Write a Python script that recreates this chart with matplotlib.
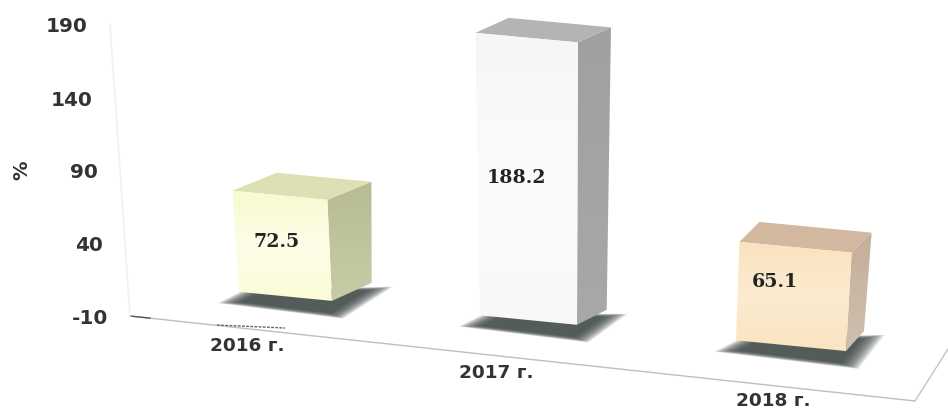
import numpy as np
from matplotlib import pyplot as plt
from matplotlib.colors import LinearSegmentedColormap
from matplotlib.patches import Polygon

categories = ["2016 г.", "2017 г.", "2018 г."]
values = [72.5, 188.2, 65.1]
value_labels = ["72.5", "188.2", "65.1"]
y_ticks = [190, 140, 90, 40, -10]

# picture layout of the slanted 3D box chart
WIDTH, HEIGHT = 948, 410
bar_left = [239, 480, 736]
bar_right = [332, 577, 846]
px_per_unit = [1.225, 1.425, 1.31]
depth_dx = [44, 33, 20]
depth_dy = [-18, -15, -20]
label_shift = [(-6, -5), (-11, -2), (-18, -15)]
cat_label_xy = [(247, 346), (496, 373), (773, 401)]

front_colors = [("#F8FAD0", "#FDFDE8", "#FBFCD6"),
                ("#F6F6F6", "#FBFBFB", "#F8F8F8"),
                ("#FAE2BE", "#FCEBD0", "#FBE4C2")]
top_colors = ["#DDE0B4", "#B4B4B4", "#D3B8A0"]
side_colors = [("#B8BC94", "#C8CCA6"),
               ("#A0A0A0", "#A8A8A8"),
               ("#C6AE9A", "#CFC0B0")]


def floor_y(x):
    return 317 + (x - 130) * 85 / 785


def base_y(x):
    return floor_y(x) - (36 + 0.0107 * (x - 239))


def wall_y(v):
    return 317 - (v + 10) * 1.46


def wall_x(v):
    return 130 - (v + 10) * 0.1


def top_point(x, v, scale):
    h = (v + 10) * scale
    lean = (x - 560) * 0.0002
    return (x + lean * h, base_y(x) - h)


def gradient_poly(ax, pts, colors, zorder):
    pts = np.array(pts)
    patch = Polygon(pts, fc="none", ec="none", zorder=zorder)
    ax.add_patch(patch)
    cmap = LinearSegmentedColormap.from_list("face", colors)
    grad = np.linspace(0, 1, 64).reshape(-1, 1)
    im = ax.imshow(grad, cmap=cmap, aspect="auto", zorder=zorder,
                   extent=(pts[:, 0].min(), pts[:, 0].max(), pts[:, 1].max(), pts[:, 1].min()))
    im.set_clip_path(patch)


def soft_shadow(ax, pts, zorder):
    pts = np.array(pts, dtype=float)
    center = pts.mean(axis=0)
    for grow in np.linspace(1.1, 0.78, 18):
        ax.add_patch(Polygon(center + (pts - center) * grow, fc="#3C4444", ec="none",
                             alpha=0.1, zorder=zorder))


def main():
    fig = plt.figure(figsize=(WIDTH / 100, HEIGHT / 100), dpi=100)
    ax = fig.add_axes([0, 0, 1, 1])
    ax.axis("off")

    # wall and floor lines
    ax.plot([wall_x(190), wall_x(-10)], [wall_y(190), wall_y(-10)], color="#F0F0F0", lw=1.2, zorder=1)
    ax.plot([130, 915], [floor_y(130), floor_y(915)], color="#BEBEBE", lw=1.0, zorder=1)
    ax.plot([132, 150], [floor_y(132), floor_y(150)], color="#555555", lw=1.0, zorder=1)
    ax.plot([915, 948], [floor_y(915), 350], color="#C4C4C4", lw=1.0, zorder=1)
    ax.plot([217, 285], [326, 329], color="#666666", lw=1.0, ls=(0, (2, 1)), zorder=1)

    for tick in y_ticks:
        ax.text(wall_x(tick) - 22, wall_y(tick) + 2, str(tick), ha="right", va="center",
                fontsize=14.4, fontweight="bold", color="#333333")
    ax.text(22, 170, "%", rotation=90, ha="center", va="center",
            fontsize=14, fontweight="bold", color="#333333")

    for i, v in enumerate(values):
        xl, xr = bar_left[i], bar_right[i]
        dx, dy = depth_dx[i], depth_dy[i]
        s = px_per_unit[i]
        bl = np.array((xl, base_y(xl)))
        br = np.array((xr, base_y(xr)))
        tl = np.array(top_point(xl, v, s))
        tr = np.array(top_point(xr, v, s))
        depth = np.array((dx, dy))
        back_br = br + depth * (0.9, 1)

        soft_shadow(ax, [bl + (-14, 11), bl + (10, -1), back_br + (13, 5), br + (7, 16)], 2 + i)
        gradient_poly(ax, [br, back_br, tr + depth, tr], side_colors[i], 3 + i)
        ax.add_patch(Polygon([tl, tl + depth, tr + depth, tr], fc=top_colors[i], ec="none", zorder=3 + i))
        gradient_poly(ax, [bl, br, tr, tl], front_colors[i], 3.5 + i)

        mid = (bl + br + tl + tr) / 4
        ax.text(mid[0] + label_shift[i][0], mid[1] + label_shift[i][1], value_labels[i],
                ha="center", va="center", family="DejaVu Serif", fontweight="bold",
                fontsize=13.7, color="#222222", zorder=10)
        ax.text(cat_label_xy[i][0], cat_label_xy[i][1], categories[i], ha="center", va="center",
                fontsize=13.3, fontweight="bold", color="#333333", zorder=10)

    ax.set_xlim(0, WIDTH)
    ax.set_ylim(HEIGHT, 0)
    fig.savefig("out.png", dpi=100)


if __name__ == "__main__":
    main()
